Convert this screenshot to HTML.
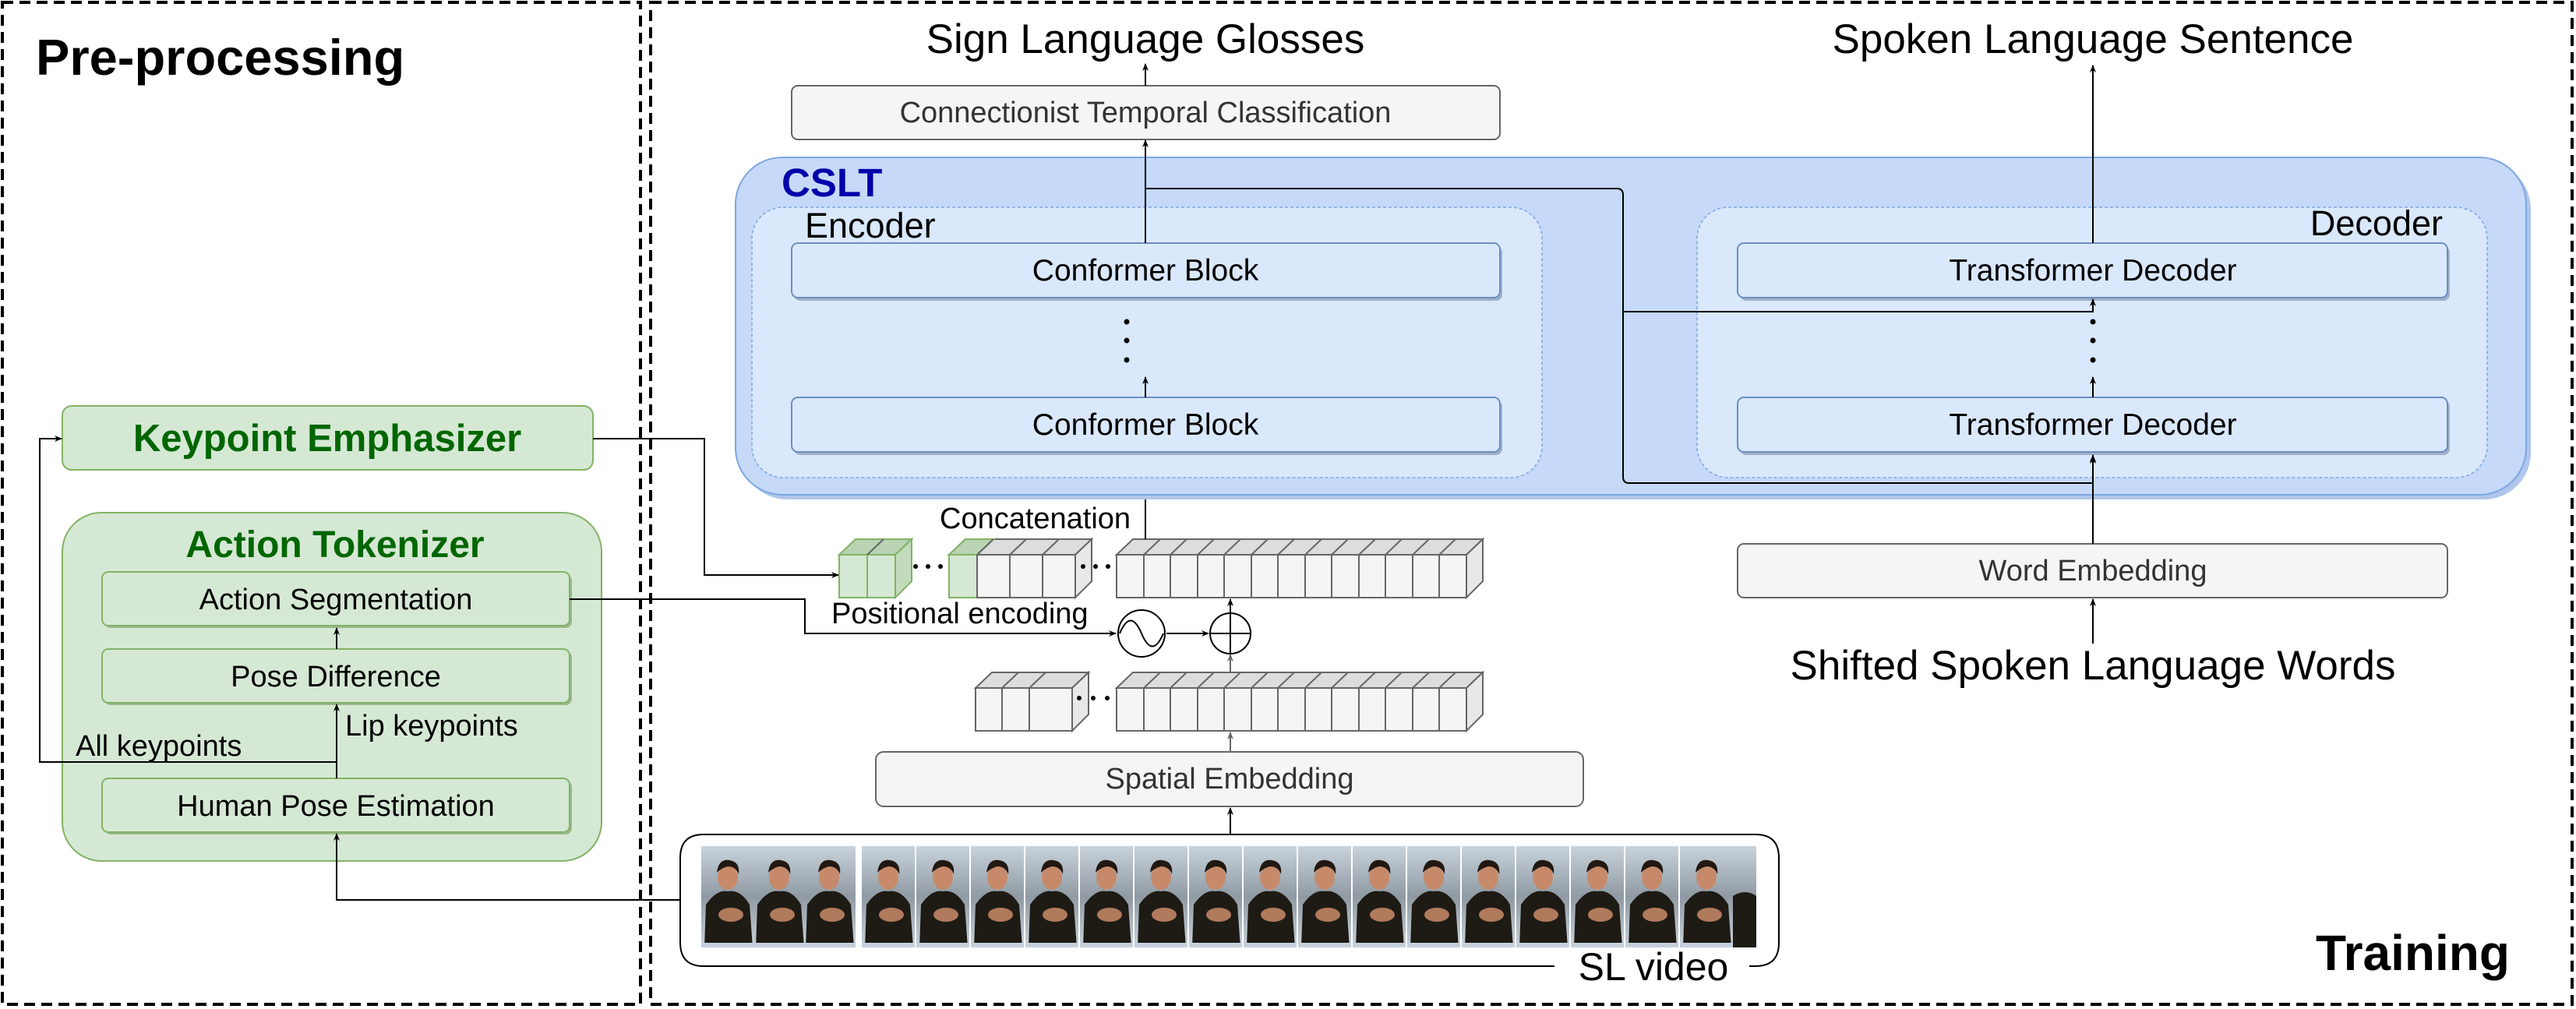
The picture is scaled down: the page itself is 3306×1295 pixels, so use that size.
<!DOCTYPE html>
<html><head><meta charset="utf-8"><style>html,body{margin:0;padding:0;background:#fff}svg{display:block}text{font-family:"Liberation Sans",sans-serif}</style></head><body>
<svg width="3306" height="1295" viewBox="0 0 3306 1295" xmlns="http://www.w3.org/2000/svg">
<defs>
<marker id="a" markerWidth="10" markerHeight="10" refX="9" refY="5" orient="auto" markerUnits="userSpaceOnUse"><path d="M0,1 L10,5 L0,9 L3,5 z" fill="#000"/></marker>
<marker id="g" markerWidth="10" markerHeight="10" refX="9" refY="5" orient="auto" markerUnits="userSpaceOnUse"><path d="M0,1 L10,5 L0,9 L3,5 z" fill="#666"/></marker>
<linearGradient id="bg" x1="0" y1="0" x2="0" y2="1"><stop offset="0" stop-color="#c9d3dc"/><stop offset="0.5" stop-color="#8f9aa3"/><stop offset="1" stop-color="#c8d2da"/></linearGradient>
<g id="fr"><rect x="0" y="0" width="68" height="130" fill="url(#bg)"/><path d="M4,130 L6,75 Q20,55 34,58 Q50,55 62,75 L66,130 Z" fill="#1e1a14"/><ellipse cx="34" cy="40" rx="13" ry="16" fill="#c68a6a"/><path d="M20,34 Q22,16 36,18 Q50,20 48,36 Q44,26 34,26 Q26,28 20,34Z" fill="#211812"/><ellipse cx="38" cy="88" rx="16" ry="9" fill="#b07a5c"/><rect x="0" y="124" width="68" height="6" fill="#c4d0dc"/></g>
</defs>

<rect x="3" y="3" width="819" height="1286" fill="none" stroke="#000" stroke-width="4" stroke-dasharray="14,8"/>
<rect x="835" y="3" width="2466" height="1286" fill="none" stroke="#000" stroke-width="4" stroke-dasharray="14,8"/>

<text x="46" y="96" font-size="65" font-weight="bold">Pre-processing</text>
<text x="2972" y="1245" font-size="64" font-weight="bold">Training</text>

<rect x="80" y="521" width="681" height="82" rx="12" fill="#d5e8d4" stroke="#82b366" stroke-width="2"/>
<text x="420" y="579" font-size="49" font-weight="bold" fill="#006600" text-anchor="middle">Keypoint Emphasizer</text>
<rect x="80" y="658" width="692" height="447" rx="50" fill="#d5e8d4" stroke="#82b366" stroke-width="2"/>
<text x="430" y="715" font-size="48" font-weight="bold" fill="#006600" text-anchor="middle">Action Tokenizer</text>
<g fill="#d5e8d4" stroke="#82b366" stroke-width="2">
<rect x="134" y="737" width="600" height="69" rx="8" fill="#9db78f" stroke="none"/>
<rect x="131" y="734" width="600" height="69" rx="8"/>
<rect x="134" y="836" width="600" height="69" rx="8" fill="#9db78f" stroke="none"/>
<rect x="131" y="833" width="600" height="69" rx="8"/>
<rect x="134" y="1002" width="600" height="69" rx="8" fill="#9db78f" stroke="none"/>
<rect x="131" y="999" width="600" height="69" rx="8"/>
</g>
<g font-size="38" text-anchor="middle"><text x="431" y="782">Action Segmentation</text><text x="431" y="881">Pose Difference</text><text x="431" y="1047">Human Pose Estimation</text></g>
<text x="97" y="970" font-size="38">All keypoints</text>
<text x="443" y="944" font-size="38">Lip keypoints</text>
<g fill="none" stroke="#000" stroke-width="2">
<path d="M432,999 V904" marker-end="url(#a)"/>
<path d="M432,833 V806" marker-end="url(#a)"/>
<path d="M432,978 H51 V563 H79" marker-end="url(#a)"/>
<path d="M873,1155 H432 V1070" marker-end="url(#a)"/>
<path d="M761,563 H904 V738 H1076" marker-end="url(#a)"/>
<path d="M731,769 H1033 V813 H1432" marker-end="url(#a)"/>
<path d="M1497,813 H1551" marker-end="url(#a)"/>
</g>

<circle cx="1465" cy="813" r="30" fill="#fff" stroke="#000" stroke-width="2"/>
<path d="M1437,813 Q1451,780 1465,813 Q1479,846 1493,813" fill="none" stroke="#000" stroke-width="2"/>
<circle cx="1579" cy="813" r="26" fill="#fff" stroke="#000" stroke-width="2"/>
<path d="M1553,813 H1605 M1579,787 V839" stroke="#000" stroke-width="2"/>

<g stroke="#666" stroke-width="2">
<path d="M1077,712 L1098,692 L1170,692 L1149,712Z" fill="#b9d3b3" stroke="#82b366"/>
<path d="M1149,712 L1170,692 L1170,746 L1149,767Z" fill="#c3dabb" stroke="#82b366"/>
<rect x="1077" y="712" width="36" height="55" fill="#d5e8d4" stroke="#82b366"/><rect x="1113" y="712" width="36" height="55" fill="#d5e8d4" stroke="#82b366"/>
<path d="M1218,712 L1239,692 L1401,692 L1380,712Z" fill="#ddd"/>
<path d="M1218,712 L1239,692 L1275,692 L1254,712Z" fill="#b9d3b3" stroke="#82b366"/>
<path d="M1380,712 L1401,692 L1401,746 L1380,767Z" fill="#e8e8e8"/>
<rect x="1218" y="712" width="36" height="55" fill="#d5e8d4" stroke="#82b366"/>
<rect x="1254" y="712" width="42" height="55" fill="#f5f5f5"/><rect x="1296" y="712" width="42" height="55" fill="#f5f5f5"/><rect x="1338" y="712" width="42" height="55" fill="#f5f5f5"/>
<path d="M1433,712 L1454,692 L1903,692 L1882,712Z" fill="#ddd"/>
<path d="M1882,712 L1903,692 L1903,746 L1882,767Z" fill="#e8e8e8"/>
<rect x="1433" y="712" width="449" height="55" fill="#f5f5f5"/>
<path d="M1468,712 V767 M1502,712 V767 M1537,712 V767 M1571,712 V767 M1606,712 V767 M1640,712 V767 M1675,712 V767 M1709,712 V767 M1744,712 V767 M1778,712 V767 M1813,712 V767 M1847,712 V767" fill="none"/>
<path d="M1254,712 L1275,692 M1296,712 L1317,692 M1338,712 L1359,692 M1113,712 L1134,692" fill="none"/>
<path d="M1468,712 L1489,692 M1502,712 L1523,692 M1537,712 L1558,692 M1571,712 L1592,692 M1606,712 L1627,692 M1640,712 L1661,692 M1675,712 L1696,692 M1709,712 L1730,692 M1744,712 L1765,692 M1778,712 L1799,692 M1813,712 L1834,692 M1847,712 L1868,692" fill="none"/>
<path d="M1252,883 L1273,863 L1397,863 L1376,883Z" fill="#ddd"/>
<path d="M1376,883 L1397,863 L1397,917 L1376,938Z" fill="#e8e8e8"/>
<rect x="1252" y="883" width="124" height="55" fill="#f5f5f5"/>
<path d="M1286,883 V938 M1321,883 V938 M1286,883 L1307,863 M1321,883 L1342,863" fill="none"/>
<path d="M1433,883 L1454,863 L1903,863 L1882,883Z" fill="#ddd"/>
<path d="M1882,883 L1903,863 L1903,917 L1882,938Z" fill="#e8e8e8"/>
<rect x="1433" y="883" width="449" height="55" fill="#f5f5f5"/>
<path d="M1468,883 V938 M1502,883 V938 M1537,883 V938 M1571,883 V938 M1606,883 V938 M1640,883 V938 M1675,883 V938 M1709,883 V938 M1744,883 V938 M1778,883 V938 M1813,883 V938 M1847,883 V938" fill="none"/>
<path d="M1468,883 L1489,863 M1502,883 L1523,863 M1537,883 L1558,863 M1571,883 L1592,863 M1606,883 L1627,863 M1640,883 L1661,863 M1675,883 L1696,863 M1709,883 L1730,863 M1744,883 L1765,863 M1778,883 L1799,863 M1813,883 L1834,863 M1847,883 L1868,863" fill="none"/>
</g>
<g fill="#000"><circle cx="1175" cy="727" r="3"/><circle cx="1191" cy="727" r="3"/><circle cx="1207" cy="727" r="3"/>
<circle cx="1390" cy="727" r="3"/><circle cx="1406" cy="727" r="3"/><circle cx="1422" cy="727" r="3"/>
<circle cx="1385" cy="896" r="3"/><circle cx="1403" cy="896" r="3"/><circle cx="1421" cy="896" r="3"/></g>
<text x="1206" y="678" font-size="38">Concatenation</text>
<text x="1067" y="800" font-size="38">Positional encoding</text>

<g fill="none" stroke="#000" stroke-width="2">
<path d="M1579,787 V769" marker-end="url(#a)"/>
<path d="M1579,863 V840" stroke="#666" marker-end="url(#g)"/>
<path d="M1579,965 V940" stroke="#666" marker-end="url(#g)"/>
<path d="M1579,1071 V1037" marker-end="url(#a)"/>
<path d="M1470,692 V584" marker-end="url(#a)"/>
</g>

<rect x="1124" y="965" width="908" height="70" rx="10" fill="#f5f5f5" stroke="#666" stroke-width="2"/>
<text x="1578" y="1012" font-size="38" fill="#333" text-anchor="middle">Spatial Embedding</text>

<path d="M1995,1240 H903 Q873,1240 873,1210 V1101 Q873,1071 903,1071 H2253 Q2283,1071 2283,1101 V1210 Q2283,1240 2253,1240 H2245" fill="none" stroke="#000" stroke-width="2"/>
<text x="2122" y="1258" font-size="50" text-anchor="middle">SL video</text>
<g>
<use href="#fr" x="900" y="1086"/>
<use href="#fr" x="1030" y="1086"/><use href="#fr" x="1106" y="1086"/><use href="#fr" x="1176" y="1086"/><use href="#fr" x="1246" y="1086"/><use href="#fr" x="1316" y="1086"/><use href="#fr" x="1386" y="1086"/><use href="#fr" x="1456" y="1086"/><use href="#fr" x="1526" y="1086"/><use href="#fr" x="1596" y="1086"/><use href="#fr" x="1666" y="1086"/><use href="#fr" x="1736" y="1086"/><use href="#fr" x="1806" y="1086"/><use href="#fr" x="1876" y="1086"/><use href="#fr" x="1946" y="1086"/><use href="#fr" x="2016" y="1086"/><use href="#fr" x="2086" y="1086"/><use href="#fr" x="2156" y="1086"/>
<use href="#fr" x="966" y="1086"/>
<rect x="2224" y="1086" width="30" height="130" fill="url(#bg)"/><path d="M2224,1150 Q2240,1140 2254,1150 V1216 H2224Z" fill="#1e1a14"/>
</g>

<rect x="950" y="208" width="2298" height="433" rx="60" fill="#b0c6ec"/>
<rect x="944" y="202" width="2298" height="433" rx="60" fill="#c6d9f9" stroke="#7ea6e0" stroke-width="2"/>
<text x="1003" y="252" font-size="51" font-weight="bold" fill="#0000aa">CSLT</text>
<rect x="965" y="266" width="1014" height="347" rx="40" fill="#dae8fc" stroke="#7ea6e0" stroke-width="1.5" stroke-dasharray="4,3"/>
<rect x="2178" y="266" width="1014" height="347" rx="40" fill="#dae8fc" stroke="#7ea6e0" stroke-width="1.5" stroke-dasharray="4,3"/>
<text x="1033" y="305" font-size="45">Encoder</text>
<text x="3135" y="302" font-size="45" text-anchor="end">Decoder</text>
<g fill="#dae8fc" stroke="#6c8ebf" stroke-width="2">
<rect x="1019" y="316" width="909" height="70" rx="8" fill="#9fb0c8" stroke="none"/><rect x="1016" y="312" width="909" height="70" rx="8"/>
<rect x="1019" y="514" width="909" height="70" rx="8" fill="#9fb0c8" stroke="none"/><rect x="1016" y="510" width="909" height="70" rx="8"/>
<rect x="2233" y="316" width="911" height="70" rx="8" fill="#9fb0c8" stroke="none"/><rect x="2230" y="312" width="911" height="70" rx="8"/>
<rect x="2233" y="514" width="911" height="70" rx="8" fill="#9fb0c8" stroke="none"/><rect x="2230" y="510" width="911" height="70" rx="8"/>
</g>
<g font-size="39" text-anchor="middle"><text x="1470" y="360">Conformer Block</text><text x="1470" y="558">Conformer Block</text><text x="2686" y="360">Transformer Decoder</text><text x="2686" y="558">Transformer Decoder</text></g>
<g fill="#000"><circle cx="1446" cy="413" r="3.5"/><circle cx="1446" cy="437" r="3.5"/><circle cx="1446" cy="462" r="3.5"/>
<circle cx="2686" cy="413" r="3.5"/><circle cx="2686" cy="437" r="3.5"/><circle cx="2686" cy="462" r="3.5"/></g>

<rect x="1016" y="110" width="909" height="69" rx="8" fill="#f5f5f5" stroke="#666" stroke-width="2"/>
<text x="1470" y="157" font-size="38" fill="#333" text-anchor="middle">Connectionist Temporal Classification</text>
<text x="1470" y="68" font-size="53" text-anchor="middle">Sign Language Glosses</text>
<text x="2686" y="68" font-size="53" text-anchor="middle">Spoken Language Sentence</text>

<rect x="2230" y="698" width="911" height="69" rx="8" fill="#f5f5f5" stroke="#666" stroke-width="2"/>
<text x="2686" y="745" font-size="38" fill="#333" text-anchor="middle">Word Embedding</text>
<text x="2686" y="872" font-size="53" text-anchor="middle">Shifted Spoken Language Words</text>

<g fill="none" stroke="#000" stroke-width="2">
<path d="M1470,510 V484" marker-end="url(#a)"/>
<path d="M1470,312 V180" marker-end="url(#a)"/>
<path d="M1470,110 V82" marker-end="url(#a)"/>
<path d="M1470,242 H2075 Q2083,242 2083,250 V612 Q2083,620 2091,620 H2686 V584" marker-end="url(#a)"/>
<path d="M2083,400 H2686 V384" marker-end="url(#a)"/>
<path d="M2686,510 V484" marker-end="url(#a)"/>
<path d="M2686,312 V84" marker-end="url(#a)"/>
<path d="M2686,698 V586" marker-end="url(#a)"/>
<path d="M2686,826 V769" marker-end="url(#a)"/>
</g>
</svg>
</body></html>
